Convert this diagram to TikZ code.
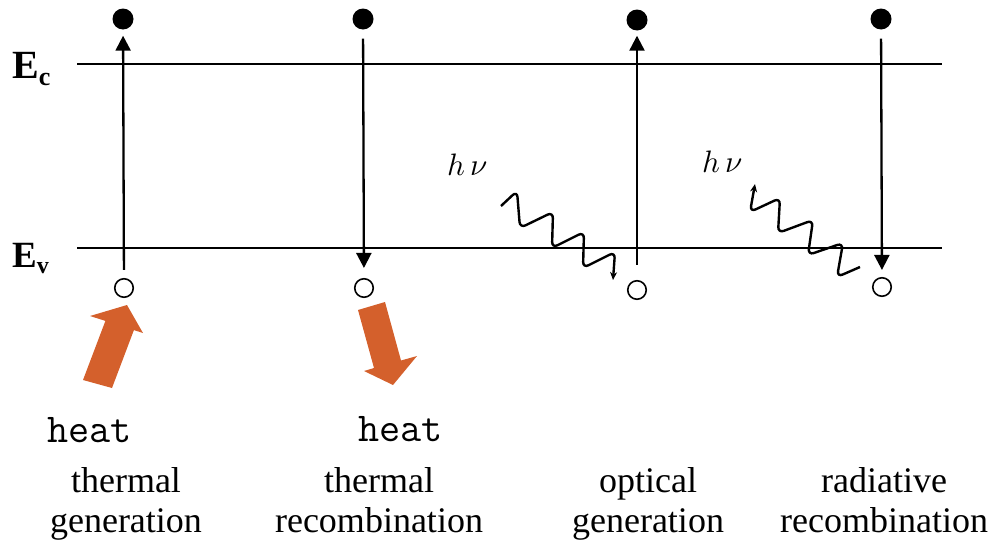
\documentclass[tikz,border=0pt]{standalone}
\usepackage{fontspec}
\setmainfont{Liberation Serif}
\usetikzlibrary{arrows.meta}
\definecolor{heatorange}{RGB}{212,96,44}
\tikzset{
  level/.style={line width=2.3pt},
  trans/.style={line width=2.3pt, -{Triangle[width=15pt,length=15pt]}},
  electron/.style={circle, fill=black, minimum size=21pt, inner sep=0pt},
  hole/.style={circle, draw=black, line width=1.6pt, fill=white, minimum size=18.5pt, inner sep=0pt},
  photon/.style={line width=2.4pt, rounded corners=6pt, -{Stealth[length=8pt,width=7pt]}},
  lbl/.style={font=\fontsize{36}{40}\selectfont, align=center, anchor=north, inner sep=0pt},
  heatlbl/.style={font=\ttfamily\fontsize{41}{41}\selectfont, anchor=base west, inner sep=0pt},
  hnu/.style={anchor=base west, inner sep=0pt},
  bandlbl/.style={font=\bfseries\fontsize{40}{40}\selectfont, anchor=base west, inner sep=0pt},
  heatarrow/.style={fill=heatorange}
}
\begin{document}
\begin{tikzpicture}[x=1pt,y=-1pt]
\useasboundingbox (0,0) rectangle (1003,549);
% band edges
\coordinate (EcL) at (77,64);  \coordinate (EcR) at (942,64);
\coordinate (EvL) at (77,248); \coordinate (EvR) at (942,248);
\draw[level] (EcL) -- (EcR);
\draw[level] (EvL) -- (EvR);
\node[bandlbl] (Ec) at (12,78) {E\raisebox{-7pt}{\fontsize{26}{26}\selectfont c}};
\node[bandlbl] (Ev) at (12,267) {\fontsize{37}{37}\selectfont E\raisebox{-6pt}{\fontsize{24}{24}\selectfont v}};
% electrons and holes
\node[electron] (e1) at (123,19) {};
\node[electron] (e2) at (363,19) {};
\node[electron] (e3) at (637,20) {};
\node[electron] (e4) at (881,19) {};
\node[hole] (h1) at (124,288) {};
\node[hole] (h2) at (364,288) {};
\node[hole] (h3) at (637,290) {};
\node[hole] (h4) at (882,287) {};
% transitions
\draw[trans, shorten <=8pt, shorten >=6pt] (h1) -- (e1);
\draw[trans, shorten <=9pt, shorten >=10pt] (e2) -- (h2);
\draw[trans, shorten <=15pt, shorten >=5pt] (h3) -- (e3);
\draw[trans, shorten <=9pt, shorten >=7pt] (e4) -- (h4);
% photons
\draw[photon] (501,206) -- (517,191) -- (520,228) -- (553,212) -- (552,248)
  -- (584,232) -- (583,268) -- (615,252) -- (613,280);
\draw[photon] (860,267) -- (837,277) -- (843,243) -- (808,255) -- (813,220)
  -- (778,233) -- (780,198) -- (750,212) -- (755,184);
\node[hnu] (nu1) at (447,175) {\scalebox{3.1}{$h\,\nu$}};
\node[hnu] (nu2) at (702,172) {\scalebox{3.1}{$h\,\nu$}};
% heat arrows
\fill[heatarrow] (83,380) -- (105.4,320.9) -- (90,316) -- (127,305) -- (143,333)
  -- (133.9,330.1) -- (112,388) -- cycle;
\fill[heatarrow] (358,310) -- (374,368) -- (364,371) -- (393,385) -- (417,356)
  -- (401,360.5) -- (385,302) -- cycle;
\node[heatlbl] (heat1) at (47,442) {heat};
\node[heatlbl] (heat2) at (358,441) {heat};
% captions
\node[lbl] (c1) at (126,467) {thermal\\generation};
\node[lbl] (c2) at (379,467) {thermal\\recombination};
\node[lbl] (c3) at (648,467) {optical\\generation};
\node[lbl] (c4) at (884,467) {radiative\\recombination};
\end{tikzpicture}
\end{document}
